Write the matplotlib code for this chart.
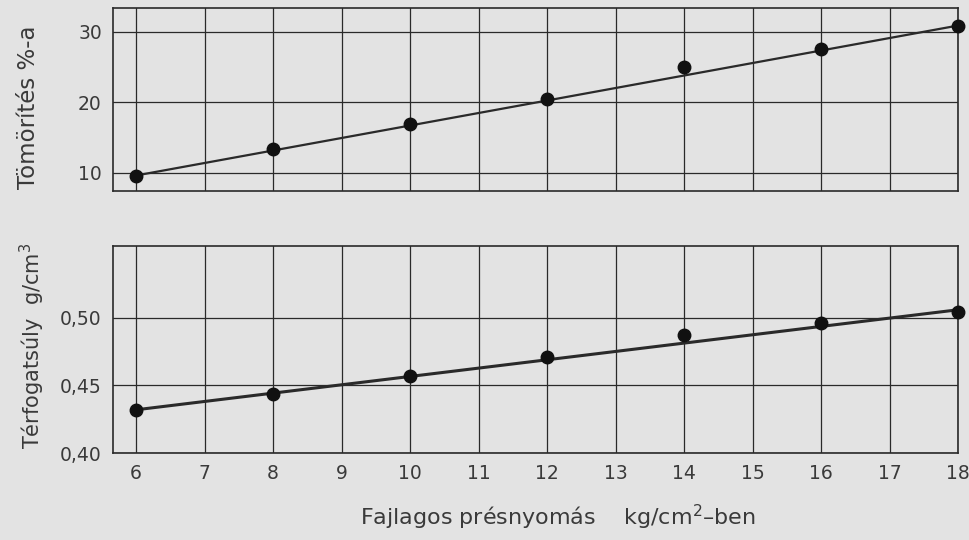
import numpy as np
import matplotlib
matplotlib.use('Agg')
from matplotlib import pyplot as plt
from matplotlib.ticker import FuncFormatter

plt.rcParams['font.family'] = ['DejaVu Sans']

# pressure (kg/cm2)
pressure = [6, 8, 10, 12, 14, 16, 18]
# compaction in percent
compaction = [9.6, 13.3, 16.9, 20.4, 25.0, 27.6, 30.9]
# bulk density g/cm3
density = [0.432, 0.444, 0.457, 0.471, 0.487, 0.496, 0.504]
# straight fitted lines (end points)
comp_line = [9.6, 30.9]
dens_line = [0.432, 0.506]

x_ticks = list(range(6, 19))
comp_ticks = [10, 20, 30]
dens_ticks = [0.40, 0.45, 0.50]

paper = '#e3e3e3'
ink = '#2a2a2a'
txt = '#3a3a3a'

fig = plt.figure(figsize=(9.69, 5.40), dpi=100, facecolor=paper)
ax1 = fig.add_axes([0.1166, 0.6463, 0.8721, 0.339])
ax2 = fig.add_axes([0.1166, 0.161, 0.8721, 0.383])

for ax in (ax1, ax2):
    ax.set_facecolor(paper)
    ax.set_xlim(5.664, 18.0)
    ax.set_xticks(x_ticks)
    ax.grid(True, color=ink, linewidth=0.9)
    ax.tick_params(length=0, labelsize=13.5, labelcolor=txt, pad=8)
    for s in ax.spines.values():
        s.set_color(ink)
        s.set_linewidth(1.2)

# top panel
ax1.plot([pressure[0], pressure[-1]], comp_line, color=ink, lw=1.6, zorder=3)
ax1.plot(pressure, compaction, 'o', color='#111111', ms=9, zorder=4, clip_on=False)
ax1.set_ylim(7.4, 33.4)
ax1.set_yticks(comp_ticks)
ax1.set_xticklabels([])
ax1.set_ylabel('Tömörítés %-a', fontsize=16.5, color=txt)
ax1.yaxis.set_label_coords(-0.086, 0.46)

# bottom panel
ax2.plot([pressure[0], pressure[-1]], dens_line, color=ink, lw=2.2, zorder=3)
ax2.plot(pressure, density, 'o', color='#111111', ms=9, zorder=4, clip_on=False)
ax2.set_ylim(0.40, 0.553)
ax2.set_yticks(dens_ticks)
ax2.yaxis.set_major_formatter(FuncFormatter(lambda v, p: ('%.2f' % v).replace('.', ',')))
ax2.set_ylabel('Térfogatsúly  g/cm$^3$', fontsize=15, color=txt)
ax2.yaxis.set_label_coords(-0.078, 0.52)
ax2.set_xlabel('Fajlagos présnyomás    kg/cm$^2$–ben', fontsize=16, color=txt)
ax2.xaxis.set_label_coords(0.527, -0.24)

fig.savefig('out.png', dpi=100, facecolor=paper)
